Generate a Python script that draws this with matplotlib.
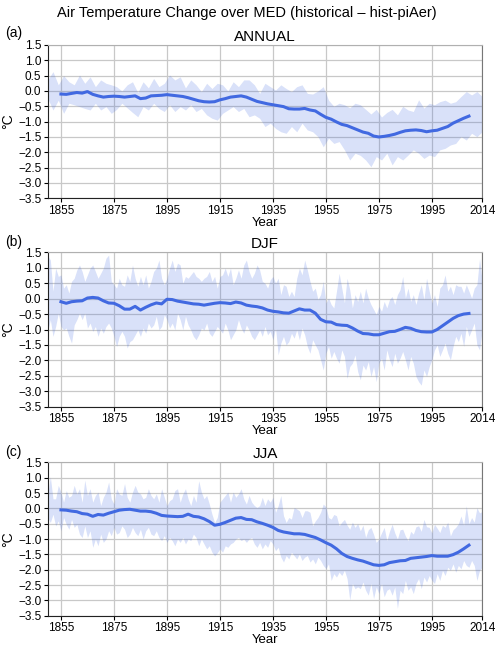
import numpy as np
import matplotlib
matplotlib.use("Agg")
import matplotlib.pyplot as plt

plt.rcParams['font.family'] = ['Liberation Sans', 'DejaVu Sans']

# ---- ANNUAL ----
ann_band_years = np.arange(1850, 2015, 2)
ann_hi = [0.36, 0.63, 0.2, 0.5, 0.3, 0.2, 0.52, 0.25, 0.46, 0.14,
          0.36, 0.25, 0.2, 0.14, 0.0, 0.2, 0.3, -0.05, 0.3, 0.1,
          0.41, 0.14, 0.25, 0.52, 0.36, 0.46, 0.1, 0.36, 0.2, -0.02,
          0.25, 0.08, 0.25, 0.2, 0.0, 0.3, 0.14, 0.36, 0.36, 0.2,
          -0.08, 0.25, 0.14, 0.03, 0.2, 0.08, -0.02, 0.14, 0.2, -0.08,
          -0.1, 0.0, 0.14, -0.3, -0.5, -0.4, -0.45, -0.55, -0.4, -0.45,
          -0.6, -0.75, -0.6, -0.85, -0.7, -0.6, -0.78, -0.5, -0.62, -0.67,
          -0.29, -0.56, -0.4, -0.45, -0.35, -0.3, -0.4, -0.35, -0.18, -0.02,
          -0.13, -0.02, -0.18]
ann_lo = [-0.24, -0.62, -0.3, -0.73, -0.4, -0.45, -0.51, -0.57, -0.62, -0.4,
          -0.62, -0.51, -0.73, -0.6, -0.4, -0.55, -0.7, -0.84, -0.51, -0.62,
          -0.4, -0.57, -0.67, -0.45, -0.67, -0.51, -0.62, -0.45, -0.67, -0.57,
          -0.78, -0.89, -0.95, -0.73, -0.62, -0.51, -0.67, -0.57, -0.84, -0.78,
          -0.89, -1.16, -1.05, -1.22, -1.33, -1.38, -1.16, -1.33, -1.05, -1.27,
          -1.33, -1.49, -1.82, -1.54, -1.71, -1.65, -1.92, -2.25, -2.03, -2.1,
          -2.25, -2.47, -2.14, -2.25, -2.03, -2.41, -2.14, -2.25, -2.09, -1.92,
          -2.03, -2.2, -2.09, -2.14, -1.92, -1.87, -1.76, -1.71, -1.49, -1.6,
          -1.38, -1.49, -1.33]
line_years = np.arange(1855, 2010, 2)
ann_mean = [-0.1, -0.11, -0.08, -0.05, -0.07, -0.02, -0.11, -0.16, -0.2, -0.18,
            -0.17, -0.18, -0.2, -0.18, -0.16, -0.25, -0.23, -0.16, -0.15, -0.14,
            -0.12, -0.14, -0.16, -0.18, -0.22, -0.27, -0.32, -0.35, -0.36, -0.35,
            -0.29, -0.25, -0.2, -0.18, -0.16, -0.2,
            -0.27, -0.34, -0.38, -0.42, -0.45, -0.48, -0.51, -0.58, -0.59, -0.59,
            -0.57, -0.62, -0.65, -0.76, -0.86, -0.92, -1.01, -1.09, -1.13, -1.2,
            -1.27, -1.34, -1.38, -1.47, -1.5, -1.48, -1.45, -1.41, -1.35, -1.3,
            -1.28, -1.27, -1.29, -1.33, -1.3, -1.28, -1.22, -1.16, -1.05, -0.97,
            -0.89, -0.82]

# ---- DJF ----
year_band = np.arange(1850, 2015)
djf_hi = [1.4, 1.25, 0.24, 0.99, 0.72, 0.77, 0.34, 0.45, 0.18, 0.56,
          0.66, 0.93, 1.09, 0.88, 0.56, 0.77, 0.99, 1.09, 0.88, 0.66,
          0.82, 0.99, 1.31, 1.41, 0.56, 0.45, 0.34, 0.66, 0.45, 0.4,
          0.77, 0.56, 1.09, 0.66, 0.4, 0.72, 0.45, 0.77, 0.34, 0.56,
          0.88, 0.99, 1.25, 0.66, 0.45, 0.66, 0.99, 1.25, 0.88, 1.15,
          1.09, 0.5, 0.72, 0.66, 0.77, 0.88, 0.72, 0.66, 0.56, 0.66,
          0.72, 0.88, 0.56, 0.72, 0.34, 0.72, 0.77, 0.99, 0.72, 0.99,
          0.45, 0.66, 0.93, 0.66, 1.09, 1.25, 0.88, 0.66, 0.82, 1.09,
          0.93, 0.56, 0.5, 0.34, 0.61, 0.72, 0.5, 0.66, 0.13, 0.45,
          0.4, 0.07, 0.24, 0.07, 0.66, 0.99, 0.77, 1.25, 0.93, 0.56,
          0.24, 0.34, -0.03, 0.13, 0.56, -0.14, 0.02, -0.19, -0.3, 0.24,
          0.82, 0.34, -0.14, 0.66, 0.29, -0.3, 0.13, -0.09, 0.24, -0.14,
          0.34, 0.02, -0.19, -0.35, -0.51, -0.25, -0.41, -0.09, -0.3, -0.03,
          0.07, -0.19, 0.13, 0.29, 0.72, 0.02, 0.34, -0.09, 0.13, -0.19,
          0.18, 0.45, -0.03, 0.66, 0.24, -0.14, 0.13, -0.25, 0.34, 0.45,
          0.77, 0.24, 0.4, 0.13, 0.45, 0.4, 0.4, 0.18, 0.45, 0.24,
          0.02, 0.34, 0.45, 1.3, 0.56]
djf_lo = [-1.06, -0.68, -1.22, -0.9, -0.47, -0.9, -1.01, -0.95, -1.22, -1.44,
          -0.85, -0.68, -0.47, -0.68, -0.47, -0.95, -0.79, -1.06, -0.9, -1.22,
          -0.95, -1.12, -0.9, -0.79, -0.95, -1.22, -1.55, -1.22, -1.06, -1.22,
          -1.6, -1.39, -1.33, -1.17, -1.01, -1.22, -0.95, -1.12, -0.79, -0.95,
          -0.85, -0.57, -1.01, -0.9, -0.52, -0.68, -0.95, -0.79, -1.01, -0.47,
          -0.68, -1.01, -0.57, -0.85, -1.01, -1.22, -1.33, -1.17, -0.95, -1.01,
          -0.79, -1.12, -1.22, -1.06, -0.9, -1.01, -1.12, -0.79, -1.01, -1.33,
          -1.17, -1.01, -0.68, -0.95, -1.12, -0.85, -1.01, -1.22, -1.33, -1.17,
          -1.01, -1.22, -0.9, -1.17, -1.06, -1.33, -0.95, -1.82, -1.44, -1.22,
          -1.5, -1.39, -1.12, -1.28, -1.01, -1.33, -0.95, -1.17, -1.55, -1.77,
          -1.33, -1.5, -1.66, -1.98, -2.31, -1.77, -1.55, -1.93, -1.71, -1.93,
          -2.09, -1.66, -1.87, -2.58, -2.2, -2.09, -1.82, -2.36, -2.63, -2.15,
          -2.31, -2.04, -2.52, -2.2, -2.69, -2.09, -1.93, -2.31, -1.66, -1.98,
          -2.2, -1.77, -2.09, -1.93, -1.71, -1.98, -2.31, -1.87, -2.09, -2.52,
          -2.69, -2.8, -2.31, -2.52, -2.2, -1.98, -1.66, -1.5, -1.87, -1.66,
          -1.44, -1.77, -1.98, -1.55, -1.22, -1.39, -1.12, -1.55, -0.9, -1.22,
          -1.01, -0.79, -1.5, -1.66, -1.01]
djf_mean = [-0.1, -0.15, -0.1, -0.08, -0.07, 0.02, 0.04, 0.02, -0.07, -0.14,
            -0.15, -0.23, -0.34, -0.34, -0.25, -0.37, -0.28, -0.2, -0.14, -0.17,
            -0.02, -0.03, -0.08, -0.11, -0.14, -0.17, -0.18, -0.21, -0.18, -0.15,
            -0.13, -0.14, -0.16, -0.11, -0.14, -0.21,
            -0.24, -0.26, -0.3, -0.37, -0.41, -0.43, -0.46, -0.47, -0.4, -0.33,
            -0.37, -0.37, -0.47, -0.67, -0.75, -0.76, -0.84, -0.86, -0.87, -0.95,
            -1.05, -1.13, -1.14, -1.17, -1.17, -1.12, -1.07, -1.06, -1.0, -0.93,
            -0.96, -1.03, -1.07, -1.08, -1.08, -1.0, -0.88, -0.76, -0.64, -0.55,
            -0.5, -0.48]

# ---- JJA ----
jja_hi = [0.47, 1.03, 0.31, 0.31, 0.75, 0.53, 0.2, 0.58, 0.36, 0.42,
          0.75, 0.47, 0.64, 0.2, 0.92, 0.42, 0.64, 0.2, 0.42, 0.53,
          0.09, 0.36, 0.53, 0.86, 0.31, 0.14, 0.64, 0.47, 0.42, 0.81,
          0.36, 0.2, 0.53, 0.75, 0.53, 0.47, 0.31, 0.36, 0.64, 0.42,
          0.31, 0.47, 0.2, 0.64, 0.36, 0.09, 0.25, 0.31, 0.58, 0.64,
          0.2, 0.47, 0.64, 0.31, 0.09, 0.42, 0.2, 0.9, 0.53, 0.31,
          0.42, 0.14, -0.19, -0.46, -0.3, 0.2, 0.31, 0.42, 0.53, 0.2,
          0.53, 0.36, 0.47, 0.64, 0.31, 0.14, 0.42, 0.2, 0.09, 0.03,
          0.09, 0.36, 0.09, 0.31, 0.2, 0.36, -0.13, 0.09, 0.42, -0.24,
          -0.46, -0.3, -0.35, 0.03, -0.02, -0.08, -0.3, -0.08, -0.08, -0.13,
          -0.57, -0.41, -0.3, -0.13, 0.14, 0.05, -0.3, -0.35, -0.2, -0.24,
          -0.57, -0.45, -0.36, -0.55, -0.68, -0.45, -0.62, -0.5, -0.73, -0.55,
          -0.95, -0.7, -0.62, -0.85, -1.11, -1.0, -0.8, -0.62, -1.05, -0.75,
          -0.52, -0.8, -1.0, -0.7, -0.68, -0.9, -1.05, -0.75, -0.84, -0.6,
          -0.57, -0.75, -0.36, -0.6, -0.62, -0.8, -0.52, -0.65, -0.79, -0.55,
          -0.62, -0.45, -0.9, -0.7, -0.62, -0.5, -0.25, -0.55, 0.08, -0.5,
          -0.3, -0.45, 0.02, -0.15, -0.1]
jja_lo = [-0.3, -0.46, -0.19, -0.57, -0.41, -0.73, -0.3, -0.52, -0.68, -0.36,
          -0.62, -0.52, -0.84, -0.95, -0.57, -0.95, -0.73, -1.27, -1.0, -1.22,
          -0.84, -1.11, -1.0, -0.73, -0.89, -0.62, -0.84, -0.79, -0.57, -0.68,
          -0.95, -0.84, -0.62, -0.79, -0.89, -0.68, -1.0, -0.73, -0.62, -0.84,
          -0.89, -0.73, -0.95, -1.05, -0.89, -1.11, -0.95, -1.05, -1.22, -1.0,
          -1.11, -0.95, -1.16, -1.0, -1.05, -0.84, -0.95, -1.22, -1.0, -1.16,
          -1.32, -1.22, -1.43, -1.55, -1.45, -1.32, -1.43, -1.22, -1.27, -1.16,
          -1.11, -1.0, -0.95, -1.05, -1.0, -1.11, -1.0, -0.95, -1.16, -1.27,
          -1.11, -1.32, -1.16, -1.27, -1.05, -1.16, -1.38, -1.27, -1.59, -1.75,
          -1.54, -1.65, -1.43, -1.54, -1.65, -1.49, -1.7, -1.59, -1.54, -1.75,
          -1.65, -1.81, -1.59, -1.7, -1.86, -1.97, -1.81, -2.35, -2.13, -2.24,
          -2.08, -2.19, -2.02, -2.29, -2.99, -2.45, -2.62, -2.56, -2.62, -2.4,
          -2.67, -2.83, -2.45, -2.94, -2.56, -2.78, -2.45, -2.88, -2.67, -2.62,
          -2.83, -2.56, -3.26, -2.67, -2.78, -2.35, -2.67, -2.56, -2.78, -2.45,
          -2.29, -2.62, -2.24, -2.4, -2.19, -2.35, -2.45, -2.13, -2.35, -2.02,
          -2.19, -1.92, -2.02, -1.81, -2.08, -1.86, -1.97, -1.7, -1.86, -1.92,
          -1.7, -1.86, -2.35, -2.02, -1.92]
jja_mean = [-0.05, -0.06, -0.09, -0.11, -0.17, -0.19, -0.26, -0.2, -0.22, -0.16,
            -0.11, -0.06, -0.04, -0.03, -0.06, -0.09, -0.09, -0.11, -0.16, -0.23,
            -0.25, -0.26, -0.27, -0.26, -0.19, -0.26, -0.28, -0.34, -0.43, -0.55,
            -0.52, -0.46, -0.39, -0.32, -0.3, -0.36,
            -0.37, -0.44, -0.49, -0.55, -0.62, -0.72, -0.77, -0.8, -0.83, -0.83,
            -0.85, -0.9, -0.95, -1.03, -1.12, -1.2, -1.32, -1.47, -1.57, -1.63,
            -1.68, -1.72, -1.78, -1.84, -1.86, -1.84, -1.77, -1.74, -1.71, -1.7,
            -1.63, -1.61, -1.59, -1.57, -1.54, -1.56, -1.56, -1.56, -1.51, -1.43,
            -1.32, -1.2]

band_col = '#4169e1'
line_col = '#4169e1'
xticks = [1855, 1875, 1895, 1915, 1935, 1955, 1975, 1995, 2014]


def draw_panel(ax, byears, lo, hi, mean, title):
    ax.fill_between(byears, lo, hi, color=band_col, alpha=0.2, lw=0, zorder=2)
    ax.plot(line_years, mean, color=line_col, lw=2.2, zorder=3)
    ax.set_xlim(1850, 2014)
    ax.set_ylim(-3.5, 1.5)
    ax.set_xticks(xticks)
    ax.set_yticks(np.arange(-3.5, 1.51, 0.5))
    ax.grid(True, color='#c8c8c8', lw=0.9, zorder=0)
    ax.set_axisbelow(True)
    ax.tick_params(direction='out', length=3, width=0.8, labelsize=8.5, pad=1.5)
    ax.set_title(title, fontsize=11, pad=3)
    ax.set_xlabel('Year', fontsize=9.5, labelpad=0)
    ax.set_ylabel('°C', fontsize=10, labelpad=2)
    ax.spines['left'].set_color('#222222')
    ax.spines['bottom'].set_color('#222222')
    ax.spines['right'].set_color('#777777')
    ax.spines['top'].set_color('#b0b0b0')


fig = plt.figure(figsize=(5.0, 6.47), dpi=100)
left, width = 0.0954, 0.869
ax1 = fig.add_axes([left, 0.6935, width, 0.237])
ax2 = fig.add_axes([left, 0.3714, width, 0.2386])
ax3 = fig.add_axes([left, 0.0484, width, 0.237])

draw_panel(ax1, ann_band_years, ann_lo, ann_hi, ann_mean, 'ANNUAL')
draw_panel(ax2, year_band, djf_lo, djf_hi, djf_mean, 'DJF')
draw_panel(ax3, year_band, jja_lo, jja_hi, jja_mean, 'JJA')

fig.text(0.493, 0.98, 'Air Temperature Change over MED (historical \u2013 hist-piAer)',
         ha='center', va='center', fontsize=10.5)
fig.text(0.01, 0.949, '(a)', ha='left', va='center', fontsize=10)
fig.text(0.01, 0.626, '(b)', ha='left', va='center', fontsize=10)
fig.text(0.01, 0.302, '(c)', ha='left', va='center', fontsize=10)

fig.savefig('out.png', dpi=100)
